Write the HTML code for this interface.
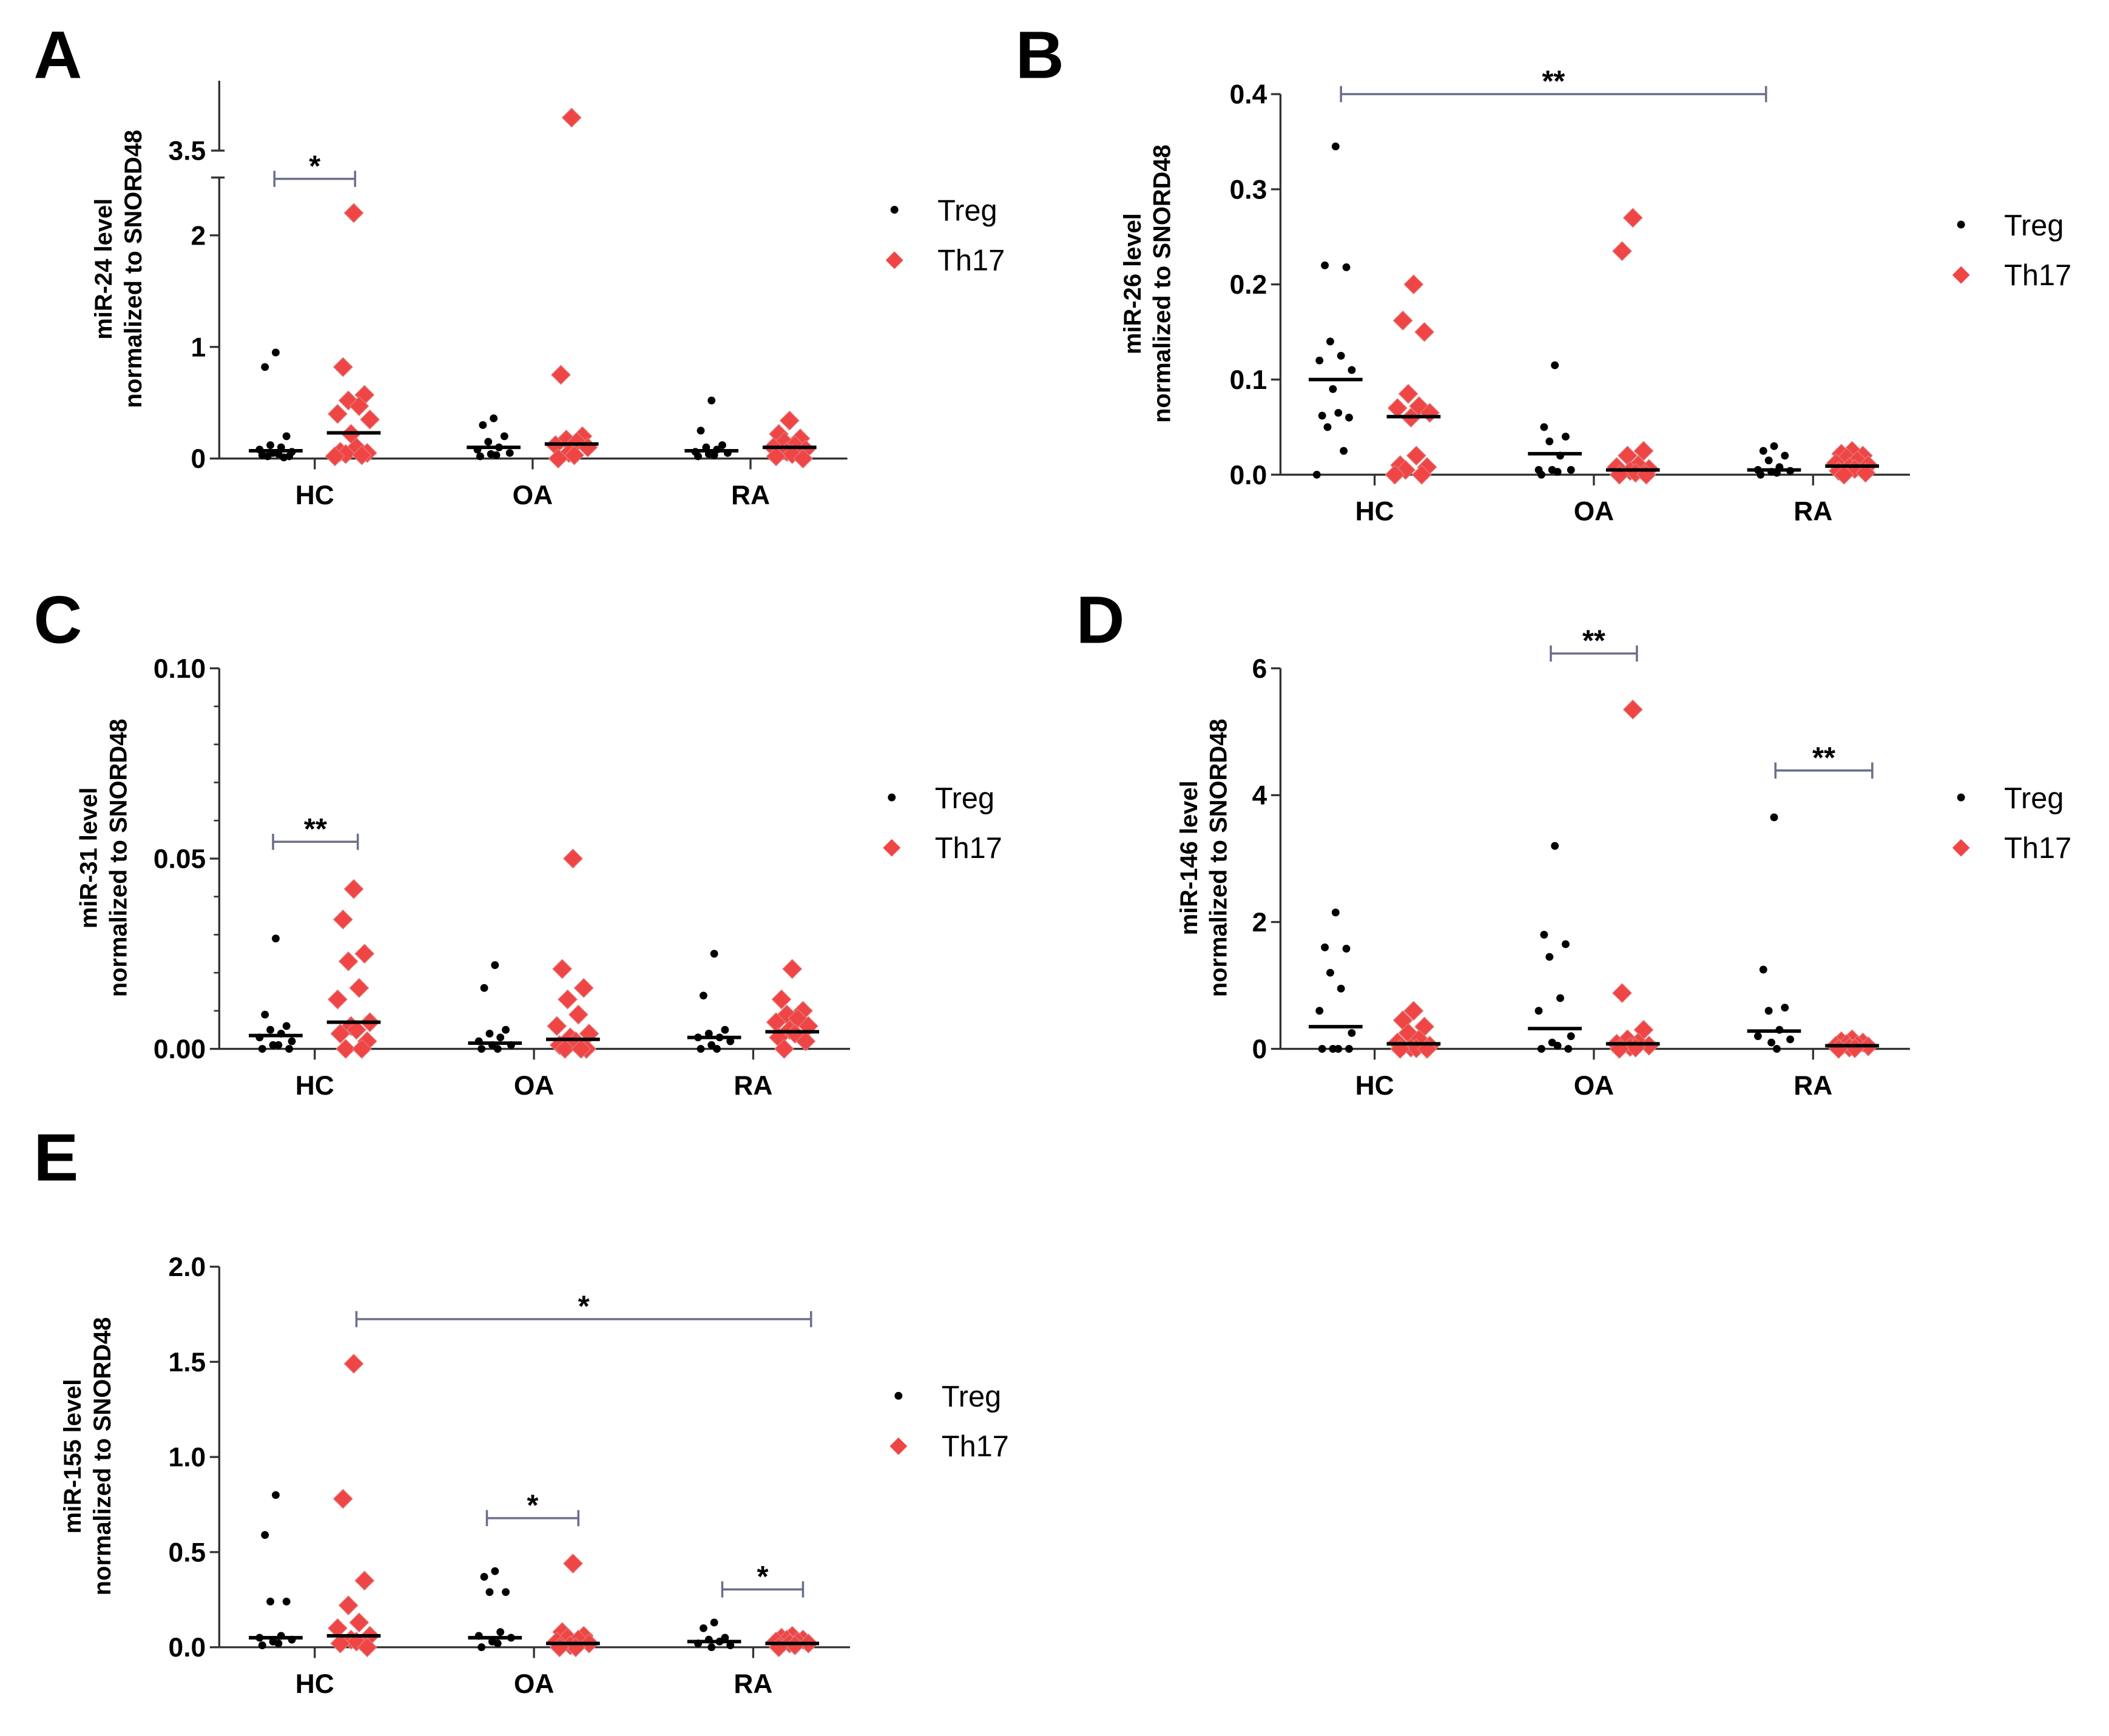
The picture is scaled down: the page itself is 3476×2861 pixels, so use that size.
<!DOCTYPE html>
<html><head><meta charset="utf-8">
<style>
html,body{margin:0;padding:0;background:#fff;}
svg{display:block;}
text{font-family:"Liberation Sans",Arial,sans-serif;}
.tick{font-family:"Liberation Sans Narrow","Liberation Sans",sans-serif;font-weight:bold;font-size:20px;}
.cat{font-family:"Liberation Sans Narrow","Liberation Sans",sans-serif;font-weight:bold;font-size:20px;}
.ytitle{font-weight:bold;font-size:18px;}
.leg{font-size:22px;}
.letter{font-weight:bold;font-size:50px;}
.star{font-weight:bold;font-size:22px;}
</style></head>
<body>
<svg id="fig" width="3476" height="2861" viewBox="0 0 1568 1291" preserveAspectRatio="none" xmlns="http://www.w3.org/2000/svg"></svg>
<script>
// ---- data ----
const categories = ["HC","OA","RA"];
const seriesNames = ["Treg","Th17"];

const aTregVals = [[0.95,0.82,0.2,0.12,0.1,0.08,0.06,0.05,0.04,0.03,0.02,0.02,0.01],[0.36,0.3,0.2,0.15,0.1,0.08,0.05,0.04,0.03,0.02],[0.52,0.25,0.12,0.1,0.08,0.06,0.05,0.04,0.03,0.02]];
const aTh17Vals = [[2.2,0.82,0.57,0.52,0.47,0.4,0.35,0.22,0.1,0.06,0.05,0.04,0.03,0.02],[3.85,0.75,0.2,0.17,0.15,0.12,0.1,0.05,0.03,0.0],[0.34,0.22,0.18,0.15,0.12,0.1,0.08,0.06,0.04,0.02,0.0]];
const aTregMed = [0.07,0.1,0.07];
const aTh17Med = [0.23,0.13,0.1];
const aTicks = [0,1,2];
const aTickLabels = ["0","1","2"];

const bTregVals = [[0.345,0.22,0.218,0.14,0.125,0.12,0.11,0.09,0.065,0.062,0.06,0.05,0.025,0.0],[0.115,0.05,0.04,0.035,0.02,0.005,0.005,0.005,0.003,0.0],[0.03,0.025,0.02,0.015,0.008,0.005,0.004,0.003,0.002,0.0]];
const bTh17Vals = [[0.2,0.162,0.15,0.085,0.072,0.07,0.065,0.06,0.02,0.01,0.008,0.005,0.0,0.0],[0.27,0.235,0.025,0.02,0.01,0.008,0.006,0.004,0.002,0.0,0.0],[0.025,0.022,0.02,0.018,0.015,0.012,0.01,0.008,0.006,0.004,0.002,0.0]];
const bTregMed = [0.1,0.022,0.005];
const bTh17Med = [0.061,0.005,0.009];
const bTicks = [0,0.1,0.2,0.3,0.4];
const bTickLabels = ["0.0","0.1","0.2","0.3","0.4"];

const cTregVals = [[0.029,0.009,0.006,0.005,0.004,0.003,0.002,0.001,0.001,0,0],[0.022,0.016,0.005,0.004,0.003,0.002,0.001,0.001,0,0],[0.025,0.014,0.005,0.004,0.003,0.003,0.002,0.001,0,0]];
const cTh17Vals = [[0.042,0.034,0.025,0.023,0.016,0.013,0.007,0.006,0.005,0.004,0.002,0,0],[0.05,0.021,0.016,0.013,0.009,0.006,0.004,0.003,0.002,0.001,0,0,0],[0.021,0.013,0.01,0.009,0.008,0.007,0.006,0.005,0.004,0.003,0.002,0]];
const cTregMed = [0.0035,0.0015,0.003];
const cTh17Med = [0.007,0.0025,0.0045];
const cTicks = [0,0.05,0.1];
const cTickLabels = ["0.00","0.05","0.10"];

const dTregVals = [[2.15,1.6,1.58,1.2,0.95,0.6,0.25,0,0,0,0],[3.2,1.8,1.65,1.45,0.8,0.6,0.2,0.1,0.05,0,0],[3.65,1.25,0.65,0.6,0.3,0.2,0.15,0.1,0]];
const dTh17Vals = [[0.6,0.45,0.35,0.25,0.15,0.1,0.05,0.02,0.01,0,0],[5.35,0.88,0.3,0.15,0.1,0.08,0.05,0.03,0.02,0],[0.15,0.12,0.1,0.08,0.06,0.05,0.04,0.02,0.01,0]];
const dTregMed = [0.35,0.32,0.28];
const dTh17Med = [0.08,0.08,0.05];
const dTicks = [0,2,4,6];
const dTickLabels = ["0","2","4","6"];

const eTregVals = [[0.8,0.59,0.24,0.24,0.06,0.05,0.04,0.03,0.02,0.01],[0.4,0.37,0.29,0.29,0.08,0.06,0.05,0.03,0.02,0],[0.13,0.1,0.05,0.04,0.03,0.02,0.01,0]];
const eTh17Vals = [[1.49,0.78,0.35,0.22,0.13,0.1,0.06,0.04,0.03,0.02,0],[0.44,0.08,0.06,0.05,0.04,0.03,0.02,0.01,0,0],[0.06,0.05,0.04,0.04,0.03,0.03,0.02,0.02,0.01,0]];
const eTregMed = [0.05,0.05,0.03];
const eTh17Med = [0.06,0.02,0.02];
const eTicks = [0,0.5,1,1.5,2];
const eTickLabels = ["0.0","0.5","1.0","1.5","2.0"];

// ---- drawing ----
const NS = "http://www.w3.org/2000/svg";
const svg = document.getElementById("fig");
function mk(tag, attrs, parent){
  const e = document.createElementNS(NS, tag);
  for (const k in attrs) e.setAttribute(k, attrs[k]);
  (parent||svg).appendChild(e);
  return e;
}
const RED = "#f04545";
const BR = "#6b6f8a";
const jit = [0,-8,8,-4,4,-12,12,-2,2,-10,10,-6,6,-14,14];

function panel(p){
  const g = mk("g", {});
  
  
  const y = p.yScale;
  const L = mk("text", {x:p.letterX, y:p.letterY, class:"letter"}, g);
  L.textContent = p.id.toUpperCase();
  
  
  const ya = mk("g", {}, g);
  
  
  if (p.breakAxis){
    mk("line",{x1:p.ax,y1:p.y0,x2:p.ax,y2:132,stroke:"#333","stroke-width":1.5},ya);
    mk("line",{x1:p.ax,y1:112,x2:p.ax,y2:60,stroke:"#333","stroke-width":1.5},ya);
    mk("line",{x1:p.ax-6,y1:132,x2:p.ax+4,y2:132,stroke:"#333","stroke-width":1.5},ya);
    mk("line",{x1:p.ax-6,y1:112,x2:p.ax+4,y2:112,stroke:"#333","stroke-width":1.5},ya);
    const t = mk("text",{x:p.ax-10,y:119,class:"tick","text-anchor":"end"},ya);
    t.textContent = "3.5";
    
    
  } else {
    mk("line",{x1:p.ax,y1:p.y0,x2:p.ax,y2:y(p.ticks[p.ticks.length-1]),stroke:"#333","stroke-width":1.5},ya);
  }
  if (p.minor){
    for (let v=p.minor; v<p.ticks[p.ticks.length-1]-1e-9; v+=p.minor){
      mk("line",{x1:p.ax-4,y1:y(v),x2:p.ax,y2:y(v),stroke:"#333","stroke-width":1.2},ya);
    }
  }
  p.ticks.forEach((v,i)=>{
    mk("line",{x1:p.ax-7,y1:y(v),x2:p.ax,y2:y(v),stroke:"#333","stroke-width":1.5},ya);
    const t = mk("text",{x:p.ax-10,y:y(v)+7,class:"tick","text-anchor":"end"},ya);
    t.textContent = p.tickLabels[i];
    
    
  });
  const tt = mk("text",{transform:`translate(${p.titleX},${p.titleY}) rotate(-90)`,class:"ytitle","text-anchor":"middle"},g);
  
  
  const s1 = mk("tspan",{x:0,dy:0},tt); s1.textContent = p.title;
  const s2 = mk("tspan",{x:0,dy:22},tt); s2.textContent = "normalized to SNORD48";
  const xa = mk("g", {}, g);
  
  
  mk("line",{x1:p.ax,y1:p.y0,x2:p.axEnd,y2:p.y0,stroke:"#333","stroke-width":1.5},xa);
  categories.forEach((c,i)=>{
    const cx = p.cat[i];
    mk("line",{x1:cx,y1:p.y0,x2:cx,y2:p.y0+8,stroke:"#333","stroke-width":1.5},xa);
    const t = mk("text",{x:cx,y:p.y0+34,class:"cat","text-anchor":"middle"},xa);
    t.textContent = c;
    
    
  });
  [[p.treg,p.tregMed,-29,"Treg"],[p.th17,p.th17Med,29,"Th17"]].forEach(([vals,meds,off,name])=>{
    vals.forEach((arr,ci)=>{
      const cx = p.cat[ci]+off;
      const sg = mk("g",{},g);
      
      
      arr.forEach((v,k)=>{
        const px = cx + jit[k%jit.length];
        const py = y(v);
        if (name==="Treg"){
          const c = mk("circle",{cx:px,cy:py,r:2.9,fill:"#000"},sg);
          
          
        } else {
          const d = mk("path",{d:`M${px} ${py-7}L${px+7} ${py}L${px} ${py+7}L${px-7} ${py}Z`,fill:RED,stroke:"#e07a7a","stroke-width":0.6},sg);
          
          
        }
      });
      const m = mk("line",{x1:cx-20,y1:y(meds[ci]),x2:cx+20,y2:y(meds[ci]),stroke:"#000","stroke-width":2.6},sg);
      
      
    });
  });
  p.brackets.forEach(b=>{
    const bg = mk("g",{},g);
    
    
    mk("line",{x1:b[0],y1:b[2],x2:b[1],y2:b[2],stroke:BR,"stroke-width":1.6},bg);
    mk("line",{x1:b[0],y1:b[2]-6,x2:b[0],y2:b[2]+6,stroke:BR,"stroke-width":1.6},bg);
    mk("line",{x1:b[1],y1:b[2]-6,x2:b[1],y2:b[2]+6,stroke:BR,"stroke-width":1.6},bg);
    const t = mk("text",{x:(b[0]+b[1])/2,y:b[2]-2,class:"star","text-anchor":"middle"},bg);
    t.textContent = b[3];
  });
  const lg = mk("g",{},g);
  
  
  const lx = p.legX, ly = p.legY;
  const e1 = mk("g",{},lg);
  
  
  mk("circle",{cx:lx,cy:ly,r:2.9,fill:"#000"},e1);
  const t1 = mk("text",{x:lx+32,y:ly+8,class:"leg"},e1); t1.textContent = seriesNames[0];
  const e2 = mk("g",{},lg);
  
  
  mk("path",{d:`M${lx} ${ly+31}L${lx+6.5} ${ly+37.5}L${lx} ${ly+44}L${lx-6.5} ${ly+37.5}Z`,fill:RED},e2);
  const t2 = mk("text",{x:lx+32,y:ly+45,class:"leg"},e2); t2.textContent = seriesNames[1];
}

function lin(v0,p0,v1,p1){ return v => p0 + (v-v0)*(p1-p0)/(v1-v0); }
const aLow = lin(0,341,2,175);
const aHigh = lin(3.5,112,4.0,77);
panel({id:"a",letterX:25,letterY:58,ax:163,axEnd:630,y0:341,cat:[234,396,558],
  yScale:v=> v>2.6 ? aHigh(v) : aLow(v), breakAxis:true,
  ticks:aTicks,tickLabels:aTickLabels,title:"miR-24 level",titleX:83,titleY:200,
  treg:aTregVals,th17:aTh17Vals,tregMed:aTregMed,th17Med:aTh17Med,
  brackets:[[204,264,133,"*"]],legX:665,legY:156});
panel({id:"b",letterX:755,letterY:58,ax:952,axEnd:1420,y0:353,cat:[1022,1185,1348],
  yScale:lin(0,353,0.4,70),ticks:bTicks,tickLabels:bTickLabels,title:"miR-26 level",titleX:848,titleY:211,
  treg:bTregVals,th17:bTh17Vals,tregMed:bTregMed,th17Med:bTh17Med,
  brackets:[[997,1313,70,"**"]],legX:1458,legY:167});
panel({id:"c",letterX:25,letterY:478,ax:163,axEnd:632,y0:780,cat:[234,397,560],minor:0.01,
  yScale:lin(0,780,0.1,497),ticks:cTicks,tickLabels:cTickLabels,title:"miR-31 level",titleX:72,titleY:638,
  treg:cTregVals,th17:cTh17Vals,tregMed:cTregMed,th17Med:cTh17Med,
  brackets:[[203,266,626,"**"]],legX:663,legY:593});
panel({id:"d",letterX:800,letterY:478,ax:952,axEnd:1420,y0:780,cat:[1022,1185,1348],
  yScale:lin(0,780,6,497),ticks:dTicks,tickLabels:dTickLabels,title:"miR-146 level",titleX:890,titleY:638,
  treg:dTregVals,th17:dTh17Vals,tregMed:dTregMed,th17Med:dTh17Med,
  brackets:[[1153,1217,486,"**"],[1320,1392,573,"**"]],legX:1458,legY:593});
panel({id:"e",letterX:25,letterY:878,ax:163,axEnd:632,y0:1225,cat:[234,397,560],
  yScale:lin(0,1225,2,942),ticks:eTicks,tickLabels:eTickLabels,title:"miR-155 level",titleX:60,titleY:1083,
  treg:eTregVals,th17:eTh17Vals,tregMed:eTregMed,th17Med:eTh17Med,
  brackets:[[265,603,981,"*"],[362,430,1129,"*"],[537,597,1182,"*"]],legX:668,legY:1038});
</script>
</body></html>
